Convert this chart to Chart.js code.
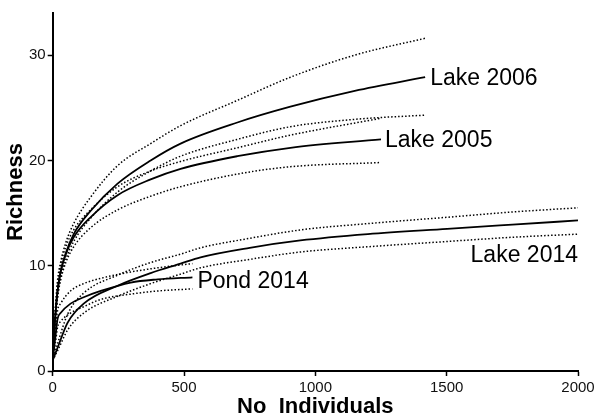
<!DOCTYPE html>
<html>
<head>
<meta charset="utf-8">
<script src="https://cdn.jsdelivr.net/npm/chart.js@4"></script>
<style>
  body { margin: 0; background: #fff; }
  #wrap { width: 596px; height: 416px; }
</style>
</head>
<body>
<div id="wrap"><canvas id="chart" width="596" height="416"></canvas></div>
<script>
// rarefaction curves (x = no. individuals, y = richness)
const lake2006X = [0, 8, 18, 30, 50, 80, 144, 247, 373, 487, 703, 905, 1150, 1418];
const lake2006 = [1, 4.5, 7.5, 9.4, 11.2, 13.0, 15.2, 17.8, 20.0, 21.6, 23.6, 25.1, 26.6, 27.9];
const lake2006Hi = [1, 5, 8.5, 10.3, 12.2, 14.0, 16.5, 19.5, 21.6, 23.3, 25.7, 27.9, 30.0, 31.6];
const lake2006Lo = [1, 4, 7, 8.8, 10.6, 12.3, 14.5, 17.0, 19.0, 20.4, 22.0, 23.2, 23.9, 24.3];

const lake2005X = [0, 8, 18, 30, 50, 80, 144, 247, 373, 487, 703, 905, 1250];
const lake2005 = [1, 4.5, 7.5, 9.4, 11.1, 12.7, 14.6, 16.7, 18.2, 19.2, 20.4, 21.2, 22.0];
const lake2005Hi = [1, 5, 8, 10, 11.8, 13.4, 15.3, 17.5, 19.0, 19.9, 21.2, 22.4, 24.0];
const lake2005Lo = [1, 4, 6.8, 8.6, 10.3, 11.8, 13.6, 15.3, 16.6, 17.5, 18.7, 19.4, 19.8];

const lake2014X = [0, 20, 57, 118, 247, 373, 487, 563, 750, 943, 1200, 1502, 1750, 2000];
const lake2014 = [1, 2.3, 4.6, 6.4, 8.1, 9.3, 10.2, 10.8, 11.7, 12.4, 13.0, 13.5, 13.9, 14.3];
const lake2014Hi = [1, 2.7, 5.4, 7.4, 9.1, 10.3, 11.1, 11.7, 12.6, 13.4, 14.0, 14.6, 15.1, 15.5];
const lake2014Lo = [1, 2.0, 3.9, 5.5, 7.1, 8.3, 9.2, 9.8, 10.6, 11.3, 11.8, 12.3, 12.7, 13.0];

const pondX = [0, 10, 19, 30, 68, 118, 183, 297, 400, 532];
const pond = [1, 3.2, 5.0, 5.5, 6.4, 7.0, 7.6, 8.4, 8.7, 8.9];
const pondHi = [1, 4.0, 5.8, 6.4, 7.6, 8.3, 8.8, 9.4, 9.8, 10.2];
const pondLo = [1, 2.6, 4.2, 4.7, 5.5, 6.1, 6.8, 7.3, 7.6, 7.8];

const xTicks = [0, 500, 1000, 1500, 2000];
const yTicks = [0, 10, 20, 30];

function pts(xs, ys) {
  return xs.map((x, i) => ({ x: x, y: ys[i] }));
}

function solid(xs, ys, tag) {
  return {
    data: pts(xs, ys),
    borderColor: '#000',
    borderWidth: 1.8,
    pointRadius: 0,
    cubicInterpolationMode: 'monotone',
    tag: tag
  };
}

function dotted(xs, ys) {
  return {
    data: pts(xs, ys),
    borderColor: '#000',
    borderWidth: 1.5,
    borderDash: [1.5, 2],
    pointRadius: 0,
    cubicInterpolationMode: 'monotone'
  };
}

// series names written at the end of each solid curve
const endLabels = {
  id: 'endLabels',
  afterDatasetsDraw(chart) {
    const ctx = chart.ctx;
    ctx.save();
    ctx.font = '23px "Liberation Sans", Arial, sans-serif';
    ctx.fillStyle = '#000';
    chart.data.datasets.forEach((ds, i) => {
      if (!ds.tag) return;
      const pts = chart.getDatasetMeta(i).data;
      const last = pts[pts.length - 1];
      ctx.textAlign = ds.tag.align;
      ctx.textBaseline = 'alphabetic';
      ctx.fillText(ds.tag.text, last.x + ds.tag.dx, last.y + ds.tag.dy);
    });
    ctx.restore();
  }
};

const tickFont = { family: '"Liberation Sans", Arial, sans-serif', size: 15, lineHeight: 1 };
const titleFont = { family: '"Liberation Sans", Arial, sans-serif', size: 22, weight: 'bold', lineHeight: 1 };

new Chart(document.getElementById('chart'), {
  type: 'line',
  data: {
    datasets: [
      dotted(lake2006X, lake2006Hi),
      solid(lake2006X, lake2006, { text: 'Lake 2006', dx: 5, dy: 8, align: 'left' }),
      dotted(lake2006X, lake2006Lo),
      dotted(lake2005X, lake2005Hi),
      solid(lake2005X, lake2005, { text: 'Lake 2005', dx: 4, dy: 8, align: 'left' }),
      dotted(lake2005X, lake2005Lo),
      dotted(lake2014X, lake2014Hi),
      solid(lake2014X, lake2014, { text: 'Lake 2014', dx: 0, dy: 42, align: 'right' }),
      dotted(lake2014X, lake2014Lo),
      dotted(pondX, pondHi),
      solid(pondX, pond, { text: 'Pond 2014', dx: 5, dy: 11, align: 'left' }),
      dotted(pondX, pondLo)
    ]
  },
  options: {
    responsive: false,
    animation: false,
    layout: { padding: { top: 13, right: 0, left: 1, bottom: -2 } },
    plugins: {
      legend: { display: false },
      tooltip: { enabled: false }
    },
    scales: {
      x: {
        type: 'linear',
        min: 0,
        max: 2000,
        afterBuildTicks: axis => { axis.ticks = xTicks.map(v => ({ value: v })); },
        afterFit: axis => { axis.paddingRight = 18; },
        ticks: { font: tickFont, color: '#111', padding: 4, maxRotation: 0, callback: v => String(v) },
        grid: { display: true, drawOnChartArea: false, drawTicks: true, tickLength: 5, tickColor: '#000', tickWidth: 1.5 },
        border: { display: true, color: '#000', width: 2 },
        title: { display: true, text: 'No  Individuals', font: titleFont, color: '#000', padding: { top: -3, bottom: 0 } }
      },
      y: {
        type: 'linear',
        min: 0,
        max: 34,
        afterBuildTicks: axis => { axis.ticks = yTicks.map(v => ({ value: v })); },
        ticks: { font: tickFont, color: '#111', padding: 2, callback: v => String(v) },
        grid: { display: true, drawOnChartArea: false, drawTicks: true, tickLength: 5, tickColor: '#000', tickWidth: 1.5 },
        border: { display: true, color: '#000', width: 2 },
        title: { display: true, text: 'Richness', font: titleFont, color: '#000', padding: { top: 4, bottom: 0 } }
      }
    }
  },
  plugins: [endLabels]
});
</script>
</body>
</html>
